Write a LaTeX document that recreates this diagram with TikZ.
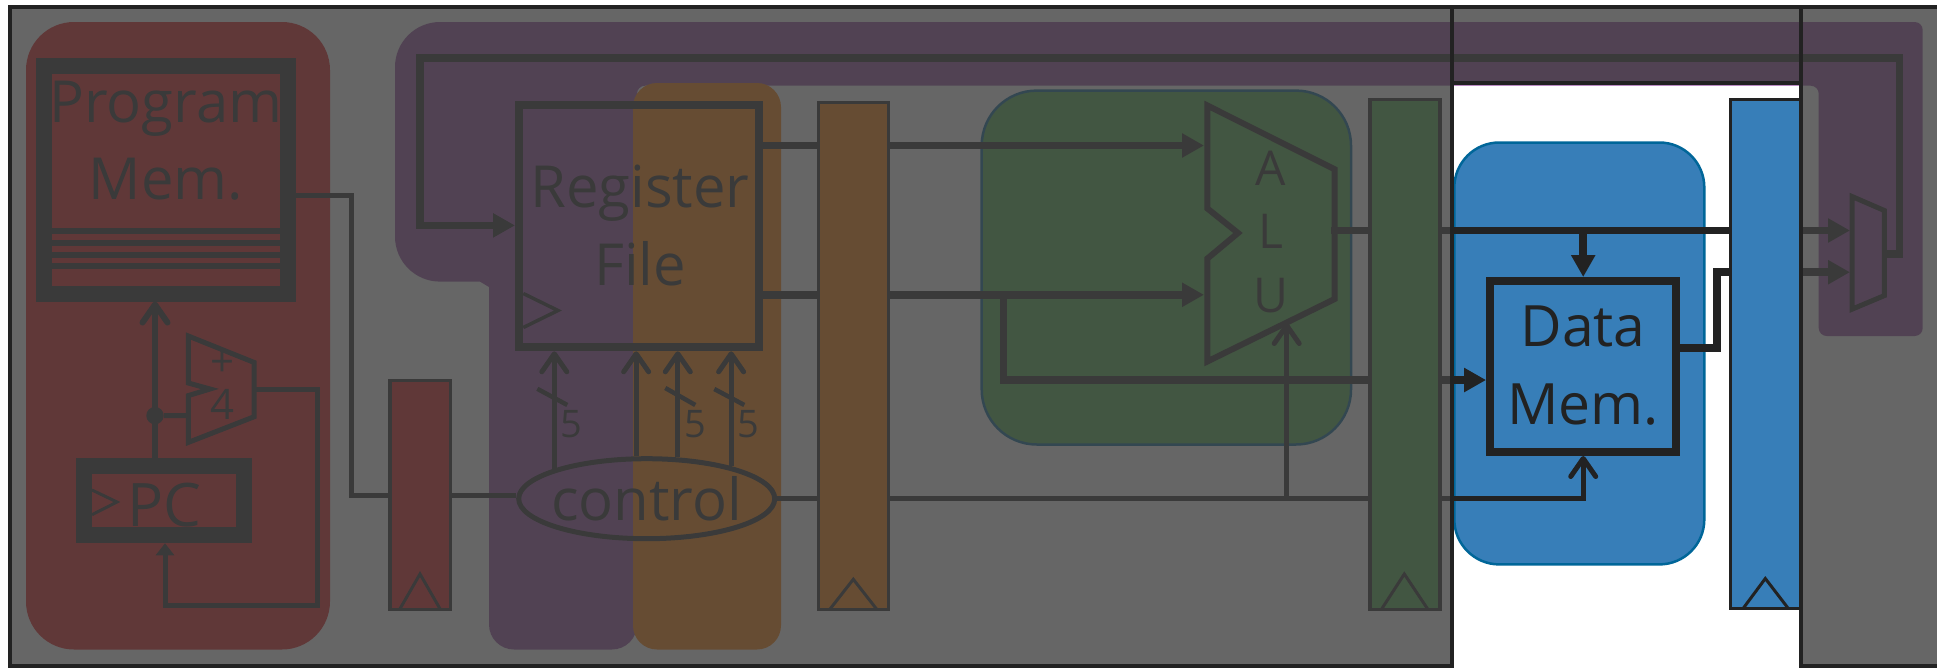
\documentclass[tikz,border=0pt]{standalone}
\usepackage{fontspec}
\setmainfont{Open Sans}
\usetikzlibrary{arrows.meta,shapes.geometric}
\definecolor{ink}{HTML}{222222}
\definecolor{veil}{HTML}{404040}
\definecolor{sred}{HTML}{E41A1C}
\definecolor{spurple}{HTML}{984EA3}
\definecolor{sorange}{HTML}{FF7F00}
\definecolor{sgreen}{HTML}{4DAF4A}
\definecolor{sblue}{HTML}{377EB8}
\definecolor{sedge}{HTML}{006699}
\tikzset{
  box/.style={draw=ink,inner sep=0pt,font=\fontsize{58}{58}\selectfont,text=ink},
  reg/.style={draw=ink,line width=3.5pt,inner sep=0pt},
  clk/.style={draw=ink,line width=3pt},
  lab/.style={inner sep=0pt,text=ink,align=center},
  wa/.style={draw=ink,line width=5pt},
  wb/.style={draw=ink,line width=7.5pt},
  solidtip/.style={-{Triangle[length=22pt,width=23pt]}},
  opentip/.style={-{Straight Barb[length=18pt,width=25pt,round]}},
}
\begin{document}
\begin{tikzpicture}[x=1pt,y=-1pt,line join=miter]
\useasboundingbox (0,0) rectangle (1937,667);
\fill[white] (0,0) rectangle (1937,667);
% stage regions
\fill[spurple,rounded corners=8pt] (700,22) -- (1922.7,22) -- (1922.7,336) -- (1818.7,336) -- (1818.7,85.7)
  -- (637,85.7) [rounded corners=25pt] -- (637,649.5) -- (489,649.5) [sharp corners] -- (489,287) -- (480,281.6)
  [rounded corners=45pt] -- (395,281.6) -- (395,22) -- cycle;
\fill[sred,rounded corners=48pt] (26,22) rectangle (330,649.5);
\fill[sorange,rounded corners=24pt] (633,83) rectangle (781,649.5);
\draw[sedge,line width=2.5pt,fill=sgreen,rounded corners=55pt] (981.7,90.6) rectangle (1351,444.5);
\draw[sedge,line width=2.5pt,fill=sblue,rounded corners=45pt] (1454.3,142.5) rectangle (1704.3,564.4);
% pipeline registers
\node[reg,fill=sred,minimum width=60.5pt,minimum height=229pt] (r1) at (420,495) {};
\node[reg,fill=sorange,minimum width=69.8pt,minimum height=507pt] (r2) at (853.6,356.2) {};
\node[reg,fill=sgreen,minimum width=70pt,minimum height=509.8pt] (r3) at (1405,354.4) {};
\node[reg,fill=sblue,minimum width=70pt,minimum height=508.8pt] (r4) at (1765.3,353.9) {};
\draw[clk] (399.3,610) -- (420,574) -- (440.7,610);
\draw[clk] (829.3,610) -- (853.3,579.3) -- (877.3,610);
\draw[clk] (1381,610) -- (1404.3,574) -- (1428.3,610);
\draw[clk] (1742.7,609) -- (1765.3,578.5) -- (1788.7,609);
% blocks
\node[box,line width=16pt,minimum width=244pt,minimum height=227.3pt] (pm) at (166,179.9) {};
\node[lab,anchor=base,font=\fontsize{58}{77.4}\selectfont] (tpm) at (166,199.5) {Program\\Mem.};
\foreach \yy in {230.5,242.9,254.8,266.3}
  \draw[ink,line width=6pt] (pm.center |- 0,\yy) ++(-114,0) -- ++(228,0);
\node[box,line width=16pt,minimum width=160pt,minimum height=68.9pt] (pc) at (164,500.8) {};
\node[lab,anchor=base,font=\fontsize{60}{60}\selectfont] (tpc) at (164.5,526.6) {PC};
\draw[clk] (92,490) -- (117,502) -- (92,514.7);
\node[box,line width=8pt,minimum width=240pt,minimum height=242.6pt] (rf) at (639,226) {};
\node[lab,anchor=base,font=\fontsize{58}{77.4}\selectfont] (trf) at (640,285) {Register\\File};
\draw[clk,line width=3.5pt] (523.3,293.5) -- (558,310.5) -- (523.3,327.5);
\node[draw=ink,line width=5pt,ellipse,inner sep=0pt,minimum width=256pt,minimum height=80pt] (ctl) at (646.7,498.7) {};
\node[lab,anchor=base,font=\fontsize{58}{58}\selectfont] (tctl) at (646.7,520.5) {control};
\node[box,line width=8pt,minimum width=186.3pt,minimum height=171pt] (dm) at (1583.2,366.5) {};
\node[lab,anchor=base,font=\fontsize{57}{77.4}\selectfont] (tdm) at (1583,424.3) {Data\\Mem.};
% adder
\draw[ink,line width=5pt] (188.3,336) -- (254,362.4) -- (254,416.8) -- (188.3,442.4) -- (188.3,395.6) -- (210,389) -- (188.3,383) -- cycle;
\coordinate (addout) at (254,389);
\coordinate (addin) at (188.3,415.5);
\node[lab,font=\fontsize{42}{42}\selectfont,anchor=base] (tplus) at (222.7,376) {+};
\node[lab,font=\fontsize{42}{42}\selectfont,anchor=base] (tfour) at (222.7,419) {4};
% ALU
\draw[ink,line width=6pt] (1207.3,105.5) -- (1334.7,169.3) -- (1334.7,299) -- (1207.3,361.5) -- (1207.3,258.6) -- (1238,233) -- (1207.3,208.4) -- cycle;
\coordinate (aluA) at (1204,145.5);
\coordinate (aluB) at (1204,294.8);
\coordinate (aluC) at (1286.7,323);
\coordinate (aluO) at (1331,230.5);
\node[lab,anchor=base,font=\fontsize{48}{63.8}\selectfont] (talu) at (1270.7,312.6) {A\\L\\U};
% mux
\draw[ink,line width=5pt] (1852,196.5) -- (1884.3,210.5) -- (1884.3,295.6) -- (1852,309.2) -- cycle;
\coordinate (muxA) at (1850,230.5);
\coordinate (muxB) at (1850,272.2);
\coordinate (muxO) at (1884,254);
% connectors
\node[circle,fill=ink,inner sep=0pt,minimum size=17.4pt] (dot) at (155,415.6) {};
\draw[wa,line width=6pt,opentip] (pc.north -| dot) -- (pm.south -| dot);
\draw[wa] (dot) -- (addin);
\draw[wa,-{Triangle[length=12pt,width=18pt]}] (addout) -- (317,389) -- (317,605.7) -- (165,605.7) -- (pc.south -| 165,0);
\draw[wa] (pm.east |- 0,195.7) -- (351,195.7) -- (351,495.5) -- (r1.west |- 0,495.5);
\draw[wa] (r1.east |- 0,495.5) -- (ctl.west |- 0,495.5);
\draw[wb,solidtip] (muxO) -- (1899.3,254) -- (1899.3,57.8) -- (420,57.8) -- (420,225.4) -- (rf.west |- 0,225.4);
\draw[wa,opentip] (ctl.162.3) -- (rf.south -| ctl.162.3);
\draw[wa,opentip] (ctl.104.6) -- (rf.south -| ctl.104.6);
\draw[wa,opentip] (ctl.53.1) -- (rf.south -| ctl.53.1);
\draw[wa,opentip] (ctl.21.8) -- (rf.south -| ctl.21.8);
\draw[ink,line width=4.5pt] (537.3,388.8) -- (567.3,405);
\draw[ink,line width=4.5pt] (665.3,388) -- (695.3,405);
\draw[ink,line width=4.5pt] (714.3,389) -- (744.3,405);
\node[lab,font=\fontsize{38}{38}\selectfont,anchor=base] (n1) at (571,437) {5};
\node[lab,font=\fontsize{38}{38}\selectfont,anchor=base] (n2) at (695,437) {5};
\node[lab,font=\fontsize{38}{38}\selectfont,anchor=base] (n3) at (748.7,437) {5};
\draw[wb] (rf.east |- 0,145.5) -- (r2.west |- 0,145.5);
\draw[wb] (rf.east |- 0,294.8) -- (r2.west |- 0,294.8);
\draw[wa] (ctl.east) -- (r2.west |- ctl.east);
\draw[wb,solidtip] (r2.east |- 0,145.5) -- (aluA);
\draw[wb,solidtip] (r2.east |- 0,294.8) -- (aluB);
\draw[wa] (r2.east |- ctl.east) -- (r3.west |- ctl.east);
\draw[wa,opentip] (aluC |- ctl.east) -- (aluC);
\draw[wb] (1003.3,294.8) -- (1003.3,380) -- (r3.west |- 0,380);
\draw[wb] (aluO) -- (r3.west |- aluO);
\draw[wb] (r3.east |- aluO) -- (r4.west |- aluO);
\draw[wb,solidtip] (dm.north |- aluO) -- (dm.north);
\draw[wb,solidtip] (r3.east |- 0,380) -- (dm.west |- 0,380);
\draw[wa,opentip] (r3.east |- ctl.east) -- (dm.south |- ctl.east) -- (dm.south);
\draw[wb] (dm.east |- 0,348) -- (1717,348) -- (1717,272.2) -- (r4.west |- 0,272.2);
\draw[wb,solidtip] (r4.east |- aluO) -- (muxA);
\draw[wb,solidtip] (r4.east |- 0,272.2) -- (muxB);
% veil over the inactive stages
\path[fill=veil,fill opacity=.8,draw=ink,line width=3.5pt] (10,6.8) -- (1945,6.8) -- (1945,666) -- (1801,666) -- (1801,82.8) -- (1452,82.8) -- (1452,666) -- (10,666) -- cycle;
\draw[ink,line width=3.5pt] (1452,6.8) -- (1452,84);
\draw[ink,line width=3.5pt] (1801,6.8) -- (1801,84);
\end{tikzpicture}
\end{document}
